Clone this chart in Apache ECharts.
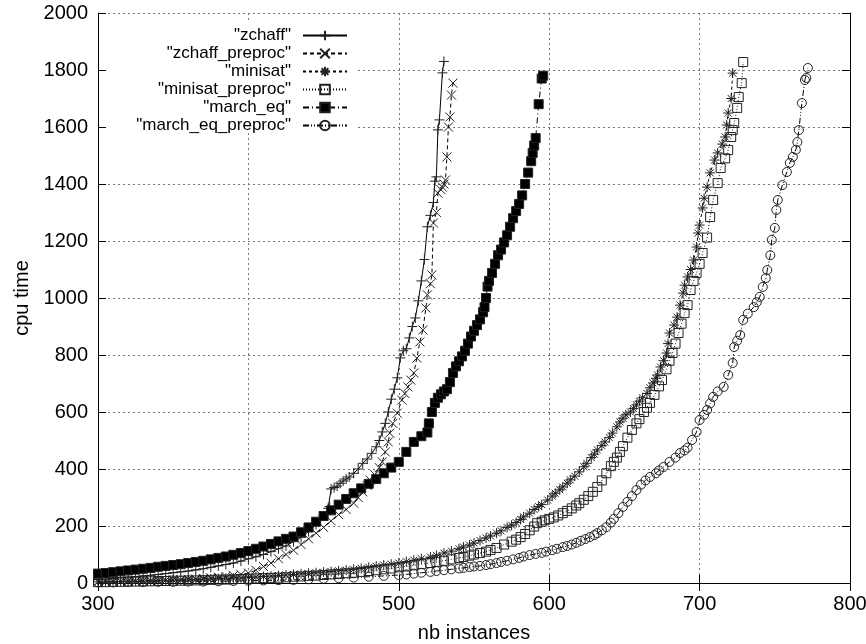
<!DOCTYPE html>
<html>
<head>
<meta charset="utf-8">
<script src="https://cdn.jsdelivr.net/npm/echarts@6/dist/echarts.min.js"></script>
<style>
  html, body { margin: 0; padding: 0; background: #fff; }
  #chart { width: 866px; height: 644px; }
</style>
</head>
<body>
<div id="chart"></div>
<script>
// axis ticks
const xTicks = [300, 400, 500, 600, 700, 800];
const yTicks = [0, 200, 400, 600, 800, 1000, 1200, 1400, 1600, 1800, 2000];

// series names (gnuplot style, with quotes)
const names = ['"zchaff"', '"zchaff_preproc"', '"minisat"', '"minisat_preproc"', '"march_eq"', '"march_eq_preproc"'];

// [nb instances, cpu time]
const zchaff = [
  [300, 12], [305, 14], [310, 16], [315, 18], [320, 20], [325, 22], [330, 25], [335, 27], [340, 30],
  [345, 33], [350, 36], [355, 39], [360, 42], [365, 46], [370, 50], [375, 55], [380, 60], [385, 65],
  [390, 70], [395, 77], [400, 85], [405, 92], [410, 100], [415, 110], [420, 120], [425, 130],
  [430, 145], [435, 160], [440, 180], [445, 205], [448, 222], [450, 235], [453, 262], [454, 268],
  [455, 330], [457, 335], [459, 340], [461, 350], [463, 358], [465, 365], [467, 372], [470, 385],
  [473, 400], [476, 420], [479, 435], [482, 455], [485, 478], [487, 500], [489, 530], [491, 560],
  [493, 600], [495, 645], [497, 680], [499, 720], [501, 790], [503, 815], [505, 822], [507, 860],
  [509, 900], [511, 930], [513, 990], [515, 1060], [517, 1135], [519, 1250], [521, 1290],
  [523, 1335], [524, 1410], [525, 1425], [526, 1590], [527, 1625], [529, 1790], [530, 1830]
];
const zchaffPre = [
  [300, 5], [305, 5], [310, 6], [315, 6], [320, 7], [325, 7], [330, 8], [335, 8], [340, 9],
  [345, 10], [350, 11], [355, 12], [360, 13], [365, 14], [370, 16], [375, 18], [380, 20], [385, 23],
  [390, 26], [395, 30], [400, 35], [405, 45], [410, 58], [415, 70], [420, 85], [425, 100],
  [430, 115], [435, 135], [440, 155], [445, 175], [450, 195], [455, 218], [460, 240], [465, 258],
  [470, 280], [473, 300], [476, 320], [479, 342], [481, 361], [484, 380], [487, 405], [489, 425],
  [491, 460], [493, 495], [494, 526], [496, 560], [499, 596], [502, 642], [504, 665], [506, 688],
  [508, 712], [510, 737], [512, 789], [514, 846], [516, 888], [518, 965], [519, 1011], [521, 1050],
  [522, 1081], [523, 1263], [525, 1300], [526, 1368], [528, 1380], [529, 1389], [530, 1400],
  [531, 1414], [532, 1495], [533, 1600], [534, 1635], [535, 1712], [536, 1754]
];
const minisat = [
  [300, 4], [305, 4], [310, 5], [315, 5], [320, 6], [325, 6], [330, 7], [335, 7], [340, 8],
  [345, 9], [350, 10], [355, 10], [360, 11], [365, 12], [370, 13], [375, 14], [380, 15], [385, 16],
  [390, 17], [395, 18], [400, 20], [405, 21], [410, 23], [415, 24], [420, 26], [425, 28], [430, 30],
  [435, 32], [440, 34], [445, 36], [450, 38], [455, 40], [460, 43], [465, 45], [470, 48], [475, 51],
  [480, 55], [485, 59], [490, 63], [495, 66], [500, 70], [505, 75], [510, 80], [515, 85], [521, 91],
  [525, 97], [530, 105], [535, 112], [540, 120], [543, 126], [547, 133], [550, 140], [554, 149],
  [558, 158], [561, 165], [565, 175], [568, 183], [572, 195], [575, 203], [578, 212], [581, 223],
  [583, 232], [587, 245], [590, 258], [593, 268], [595, 275], [599, 291], [602, 305], [604, 315],
  [607, 327], [609, 337], [612, 350], [614, 362], [617, 375], [620, 390], [623, 408], [625, 420],
  [628, 440], [630, 452], [632, 467], [635, 482], [637, 495], [640, 510], [642, 526], [645, 548],
  [647, 565], [649, 578], [651, 590], [654, 600], [656, 612], [658, 625], [660, 638], [662, 650],
  [665, 665], [667, 685], [669, 702], [671, 718], [672, 730], [674, 758], [676, 780], [678, 807],
  [679, 840], [680, 877], [683, 905], [685, 933], [687, 975], [689, 1017], [690, 1045], [692, 1074],
  [694, 1100], [696, 1133], [698, 1179], [699, 1228], [700, 1256], [702, 1316], [703, 1350],
  [705, 1389], [707, 1439], [710, 1484], [712, 1509], [715, 1540], [717, 1565], [718, 1607],
  [719, 1649], [721, 1700], [722, 1789]
];
const minisatPre = [
  [300, 3], [305, 3], [310, 4], [315, 4], [320, 5], [325, 5], [330, 6], [335, 6], [340, 7],
  [345, 7], [350, 8], [355, 8], [360, 9], [365, 9], [370, 10], [375, 11], [380, 12], [385, 12],
  [390, 13], [395, 14], [400, 15], [405, 16], [410, 17], [415, 18], [420, 19], [425, 20], [430, 22],
  [435, 23], [440, 25], [445, 26], [450, 28], [455, 30], [460, 32], [465, 34], [470, 36], [475, 39],
  [480, 42], [485, 45], [490, 48], [495, 51], [500, 55], [505, 58], [510, 62], [515, 66], [521, 70],
  [525, 74], [530, 78], [535, 83], [540, 88], [543, 91], [547, 96], [550, 100], [554, 105],
  [558, 110], [561, 116], [565, 123], [570, 135], [575, 145], [578, 152], [581, 161], [584, 172],
  [587, 185], [590, 198], [592, 210], [595, 215], [597, 220], [600, 225], [603, 230], [606, 237],
  [609, 245], [612, 253], [615, 262], [618, 272], [620, 280], [623, 292], [626, 305], [629, 320],
  [632, 337], [635, 360], [638, 385], [641, 410], [643, 425], [645, 440], [647, 460], [649, 480],
  [652, 510], [655, 537], [658, 560], [660, 575], [663, 600], [665, 615], [667, 632], [670, 660],
  [673, 690], [675, 712], [678, 750], [680, 780], [682, 807], [684, 840], [686, 877], [688, 910],
  [690, 947], [692, 975], [694, 1028], [696, 1060], [698, 1088], [700, 1120], [702, 1158],
  [705, 1212], [707, 1284], [709, 1344], [712, 1403], [714, 1456], [717, 1490], [719, 1519],
  [721, 1565], [722, 1589], [723, 1614], [725, 1667], [726, 1705], [728, 1754], [729, 1828]
];
const marchEq = [
  [300, 33], [305, 35], [310, 38], [315, 41], [320, 44], [325, 47], [330, 50], [335, 53], [340, 57],
  [345, 60], [350, 63], [355, 66], [360, 70], [365, 74], [370, 78], [375, 83], [380, 88], [385, 93],
  [390, 99], [395, 105], [400, 112], [405, 120], [410, 128], [415, 137], [420, 146], [425, 155],
  [430, 163], [435, 178], [440, 195], [445, 215], [450, 235], [455, 255], [460, 275], [465, 295],
  [470, 315], [475, 332], [480, 348], [485, 365], [490, 385], [495, 405], [500, 425], [505, 460],
  [510, 495], [515, 515], [519, 528], [520, 560], [522, 600], [524, 632], [526, 650], [528, 662],
  [530, 672], [532, 680], [534, 705], [536, 737], [538, 760], [540, 778], [542, 795], [544, 815],
  [546, 840], [548, 865], [550, 885], [552, 905], [554, 925], [556, 950], [557, 968], [558, 1000],
  [559, 1040], [560, 1060], [562, 1088], [564, 1120], [566, 1150], [568, 1170], [570, 1195],
  [572, 1220], [574, 1250], [576, 1280], [578, 1305], [580, 1330], [582, 1360], [584, 1400],
  [586, 1440], [588, 1480], [589, 1509], [590, 1535], [591, 1561], [593, 1680], [595, 1770],
  [596, 1780]
];
const marchEqPre = [
  [300, 2], [310, 2], [320, 3], [330, 3], [340, 4], [350, 4], [360, 5], [370, 5], [380, 6],
  [390, 7], [400, 8], [410, 9], [420, 10], [430, 11], [440, 13], [450, 15], [460, 17], [470, 19],
  [480, 22], [490, 25], [500, 28], [505, 30], [510, 33], [515, 36], [521, 39], [525, 42], [530, 45],
  [535, 48], [540, 51], [543, 53], [547, 56], [550, 58], [554, 60], [558, 63], [561, 66], [565, 70],
  [568, 74], [572, 78], [576, 83], [580, 88], [583, 93], [587, 98], [591, 102], [595, 106],
  [598, 110], [602, 115], [605, 120], [609, 126], [612, 130], [615, 135], [618, 141], [621, 148],
  [624, 154], [627, 161], [630, 168], [632, 175], [635, 185], [638, 196], [641, 212], [643, 225],
  [646, 245], [649, 267], [652, 285], [655, 305], [658, 326], [661, 345], [664, 360], [667, 372],
  [671, 385], [673, 395], [676, 407], [680, 425], [684, 440], [687, 456], [690, 465], [692, 475],
  [695, 502], [698, 530], [700, 572], [703, 590], [705, 607], [707, 630], [709, 653], [712, 672],
  [716, 688], [719, 730], [722, 772], [723, 828], [725, 850], [727, 870], [729, 923], [732, 945],
  [736, 968], [738, 985], [740, 1004], [742, 1039], [744, 1070], [745, 1098], [747, 1150],
  [748, 1204], [750, 1246], [751, 1309], [752, 1344], [755, 1396], [758, 1442], [760, 1474],
  [762, 1495], [764, 1520], [765, 1547], [766, 1589], [768, 1684], [770, 1765], [771, 1772],
  [772, 1807]
];

const FONT = '"Liberation Sans", Arial, Helvetica, sans-serif';

const PLUS = 'path://M5,0L5,10M0,5L10,5';
const CROSS = 'path://M0,0L10,10M10,0L0,10';
const STAR = 'path://M5,0L5,10M0,5L10,5M1.5,1.5L8.5,8.5M8.5,1.5L1.5,8.5';
const SQUARE = 'path://M0,0L10,0L10,10L0,10Z';

function lineSeries(name, data, symbol, size, dash, fill) {
  return {
    name: name,
    type: 'line',
    data: data,
    symbol: symbol,
    symbolSize: size,
    showAllSymbol: true,
    clip: true,
    lineStyle: { color: '#000', width: 1, type: dash },
    itemStyle: { color: fill, borderColor: '#222', borderWidth: 1 },
    emphasis: { disabled: true }
  };
}

// one legend per entry so that the text is right aligned like gnuplot's key
const legendTops = [27, 45, 63, 81, 99, 117];
const legends = names.map((n, i) => ({
  data: [n],
  right: 518,
  top: legendTops[i],
  orient: 'horizontal',
  align: 'right',
  padding: 0,
  itemWidth: 44,
  itemHeight: 12,
  selectedMode: false,
  textStyle: { fontSize: 17, fontFamily: FONT, color: '#000', padding: [0, 7, 0, 0] }
}));

const chart = echarts.init(document.getElementById('chart'));

const axisCommon = {
  type: 'value',
  axisLine: { show: true, lineStyle: { color: '#000', width: 1 } },
  axisTick: { show: true, inside: true, length: 8, lineStyle: { color: '#000' } }
};

chart.setOption({
  animation: false,
  backgroundColor: '#fff',
  grid: { left: 98, right: 16, top: 13, bottom: 61, outerBoundsMode: 'none' },
  legend: legends,
  graphic: [{
    type: 'rect',
    left: 107,
    top: 22,
    z: 1,
    shape: { width: 248, height: 108 },
    style: { fill: '#fff' }
  }],
  xAxis: [
    Object.assign({}, axisCommon, {
      position: 'bottom',
      min: xTicks[0],
      max: xTicks[xTicks.length - 1],
      interval: 100,
      name: 'nb instances',
      nameLocation: 'middle',
      nameGap: 40,
      nameTextStyle: { fontSize: 20, fontFamily: FONT, color: '#000' },
      axisLabel: { fontSize: 20, fontFamily: FONT, color: '#000', margin: 11, formatter: v => String(v) },
      splitLine: { show: true, lineStyle: { color: '#777', width: 1, type: [2, 3] } }
    }),
    Object.assign({}, axisCommon, {
      position: 'top',
      min: xTicks[0],
      max: xTicks[xTicks.length - 1],
      interval: 100,
      axisLabel: { show: false },
      splitLine: { show: false }
    })
  ],
  yAxis: [
    Object.assign({}, axisCommon, {
      position: 'left',
      min: yTicks[0],
      max: yTicks[yTicks.length - 1],
      interval: 200,
      name: 'cpu time',
      nameLocation: 'middle',
      nameGap: 54,
      nameRotate: 90,
      nameTextStyle: { fontSize: 20, fontFamily: FONT, color: '#000' },
      axisLabel: { fontSize: 20, fontFamily: FONT, color: '#000', margin: 10, formatter: v => String(v) },
      splitLine: { show: true, lineStyle: { color: '#777', width: 1, type: [2, 3] } }
    }),
    Object.assign({}, axisCommon, {
      position: 'right',
      min: yTicks[0],
      max: yTicks[yTicks.length - 1],
      interval: 200,
      axisLabel: { show: false },
      splitLine: { show: false }
    })
  ],
  series: [
    lineSeries(names[0], zchaff, PLUS, 10, 'solid', '#000'),
    lineSeries(names[1], zchaffPre, CROSS, 9, [4, 3], '#000'),
    lineSeries(names[2], minisat, STAR, 10, [3, 3], '#000'),
    lineSeries(names[3], minisatPre, SQUARE, 9, [1, 2], 'rgba(0,0,0,0)'),
    lineSeries(names[4], marchEq, 'rect', 9, [6, 3, 1, 3], '#000'),
    lineSeries(names[5], marchEqPre, 'circle', 9, [6, 2, 1, 2, 1, 2], 'rgba(0,0,0,0)')
  ]
});
</script>
</body>
</html>
